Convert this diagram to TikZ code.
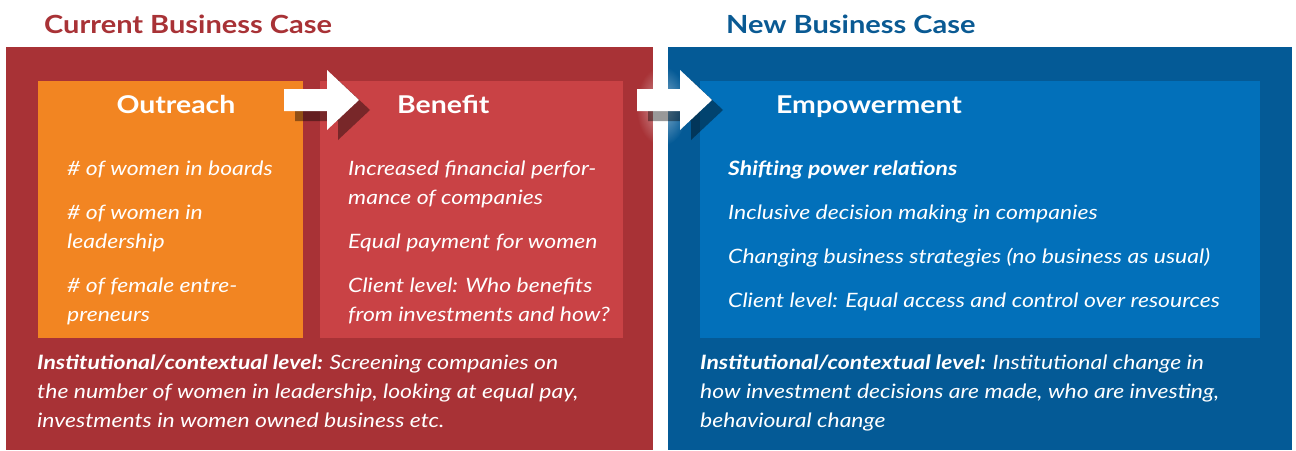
\documentclass[tikz,border=0pt]{standalone}
\usepackage{fontspec}
\setmainfont{Lato}[FakeStretch=1.16]
\usepackage{tikz}
\usetikzlibrary{fadings}
\usepackage{xcolor}

\definecolor{panelred}{HTML}{A83236}
\definecolor{boxred}{HTML}{C94245}
\definecolor{boxorange}{HTML}{F28522}
\definecolor{panelblue}{HTML}{045A96}
\definecolor{boxblue}{HTML}{0270BA}
\definecolor{titleblue}{HTML}{0A5A93}

\tikzfading[name=glowfade, inner color=transparent!0, outer color=transparent!100]

\tikzset{
  headline/.style={font=\fontsize{25}{30}\selectfont\bfseries, anchor=base west, inner sep=0},
  boxtitle/.style={font=\fontsize{24.5}{28}\selectfont\bfseries, text=white, anchor=base, inner sep=0},
  bodyline/.style={font=\fontsize{19.8}{29}\selectfont\itshape, text=white, anchor=base west, inner sep=0},
}

\begin{document}
\begin{tikzpicture}[x=1pt,y=-1pt]
\useasboundingbox (0,0) rectangle (1296,450);
% panels
\fill[panelred] (6,47) rectangle (653,450);
\fill[panelblue] (668,47) rectangle (1292,450);
\fill[boxorange] (38,81) rectangle (303,338);
\fill[boxred] (320,81) rectangle (623,338);
\fill[boxblue] (700,81) rectangle (1260,338);
% glow around the second arrow
\fill[white,opacity=0.55,path fading=glowfade] (662,106) ellipse (26 and 40);
% block arrows with shadow
\foreach \x in {284,637}{
  \fill[black,opacity=0.4] (\x+11,99)--(\x+54,99)--(\x+54,80)--(\x+86,110)--(\x+54,140)--(\x+54,121)--(\x+11,121)--cycle;
  \fill[white] (\x,89)--(\x+43,89)--(\x+43,70)--(\x+75,100)--(\x+43,130)--(\x+43,111)--(\x,111)--cycle;
}
% headings
\node[headline,text=panelred] (cur) at (44,33) {Current Business Case};
\node[headline,text=titleblue] (new) at (726,33) {New Business Case};
\node[boxtitle] (outreach) at (176,113) {Outreach};
\node[boxtitle,anchor=base west] (benefit) at (397,113) {Benefit};
\node[boxtitle,anchor=base west] (empower) at (776,113) {Empowerment};
% outreach
\node[bodyline] (o1) at (67,175) {\# of women in boards};
\node[bodyline] (o2) at (67,219) {\# of women in};
\node[bodyline] (o3) at (67,248) {leadership};
\node[bodyline] (o4) at (67,292) {\# of female entre-};
\node[bodyline] (o5) at (67,321) {preneurs};
% benefit
\node[bodyline] (b1) at (348,175) {Increased financial perfor-};
\node[bodyline] (b2) at (348,204) {mance of companies};
\node[bodyline] (b3) at (348,248) {Equal payment for women};
\node[bodyline] (b4) at (348,292) {Client level: Who benefits};
\node[bodyline] (b5) at (348,321) {from investments and how?};
% empowerment
\node[bodyline] (e1) at (728,175) {\bfseries Shifting power relations};
\node[bodyline] (e2) at (728,219) {Inclusive decision making in companies};
\node[bodyline] (e3) at (728,263) {Changing business strategies (no business as usual)};
\node[bodyline] (e4) at (728,307) {Client level: Equal access and control over resources};
% institutional level
\node[bodyline] (r1) at (37,369) {\bfseries Institutional/contextual level: \mdseries Screening companies on};
\node[bodyline] (r2) at (37,398) {the number of women in leadership, looking at equal pay,};
\node[bodyline] (r3) at (37,427) {investments in women owned business etc.};
\node[bodyline] (n1) at (700,369) {\bfseries Institutional/contextual level: \mdseries Institutional change in};
\node[bodyline] (n2) at (700,398) {how investment decisions are made, who are investing,};
\node[bodyline] (n3) at (700,427) {behavioural change};
\end{tikzpicture}
\end{document}
